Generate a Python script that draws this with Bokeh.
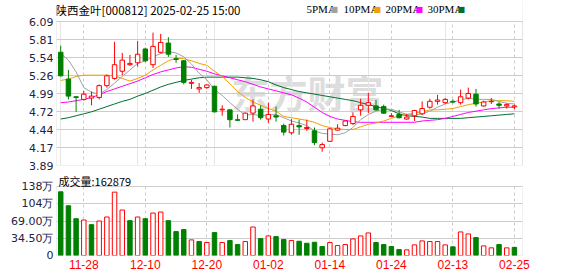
from bokeh.plotting import figure
from bokeh.layouts import column
from bokeh.models import Range1d, FixedTicker, Label, ColumnDataSource, Grid, BoxAnnotation
from bokeh.embed import file_html
from bokeh.resources import INLINE

# ---------------- data ----------------
dates = ["11-25", "11-26", "11-27", "11-28", "11-29", "12-02", "12-03", "12-04", "12-05", "12-06",
         "12-09", "12-10", "12-11", "12-12", "12-13", "12-16", "12-17", "12-18", "12-19", "12-20",
         "12-23", "12-24", "12-25", "12-26", "12-27", "12-30", "12-31", "01-02", "01-03", "01-06",
         "01-07", "01-08", "01-09", "01-10", "01-13", "01-14", "01-15", "01-16", "01-17", "01-20",
         "01-21", "01-22", "01-23", "01-24", "01-27", "02-05", "02-06", "02-07", "02-10", "02-11",
         "02-12", "02-13", "02-14", "02-17", "02-18", "02-19", "02-20", "02-21", "02-24", "02-25"]
opens = [5.62, 5.21, 4.94, 4.90, 4.92, 4.93, 5.11, 5.22, 5.33, 5.43,
         5.46, 5.67, 5.43, 5.62, 5.76, 5.52, 5.49, 5.145, 5.06, 5.08,
         5.10, 4.74, 4.74, 4.59, 4.59, 4.69, 4.75, 4.60, 4.65, 4.50,
         4.39, 4.50, 4.455, 4.42, 4.16, 4.26, 4.43, 4.50, 4.53, 4.74,
         4.81, 4.80, 4.79, 4.64, 4.67, 4.60, 4.65, 4.68, 4.78, 4.87,
         4.85, 4.87, 4.85, 4.92, 4.98, 4.80, 4.865, 4.83, 4.80, 4.785]
highs = [5.72, 5.35, 4.95, 5.03, 5.02, 5.13, 5.28, 5.78, 5.61, 5.58,
         5.79, 5.69, 5.92, 5.90, 5.85, 5.58, 5.50, 5.20, 5.15, 5.13,
         5.11, 4.81, 4.74, 4.67, 4.70, 4.90, 4.81, 4.85, 4.79, 4.53,
         4.60, 4.59, 4.59, 4.47, 4.24, 4.46, 4.52, 4.58, 4.70, 4.91,
         5.00, 4.89, 4.82, 4.69, 4.74, 4.68, 4.74, 4.87, 4.91, 4.97,
         4.92, 4.90, 5.05, 5.08, 5.06, 4.88, 4.92, 4.86, 4.84, 4.82]
lows = [5.25, 4.90, 4.71, 4.88, 4.81, 4.90, 5.08, 5.20, 5.27, 5.41,
        5.40, 5.47, 5.38, 5.60, 5.55, 5.46, 5.13, 5.06, 5.00, 5.06,
        4.70, 4.65, 4.47, 4.57, 4.59, 4.56, 4.59, 4.54, 4.56, 4.35,
        4.36, 4.36, 4.42, 4.20, 4.10, 4.25, 4.42, 4.49, 4.51, 4.65,
        4.69, 4.73, 4.68, 4.63, 4.61, 4.59, 4.57, 4.66, 4.76, 4.82,
        4.83, 4.84, 4.82, 4.90, 4.79, 4.79, 4.83, 4.76, 4.76, 4.75]
closes = [5.26, 4.95, 4.93, 4.98, 4.95, 5.11, 5.26, 5.43, 5.50, 5.45,
          5.59, 5.49, 5.71, 5.77, 5.59, 5.51, 5.16, 5.16, 5.08, 5.12,
          4.71, 4.75, 4.59, 4.58, 4.69, 4.80, 4.62, 4.67, 4.63, 4.40,
          4.52, 4.48, 4.47, 4.24, 4.21, 4.45, 4.46, 4.57, 4.64, 4.81,
          4.85, 4.74, 4.69, 4.65, 4.62, 4.63, 4.73, 4.76, 4.87, 4.89,
          4.90, 4.86, 4.94, 4.99, 4.83, 4.86, 4.87, 4.81, 4.82, 4.80]
volumes = [127.4, 99.5, 73.6, 71.0, 61.7, 69.0, 77.0, 126.7, 90.9, 69.7,
           77.0, 73.6, 84.9, 86.9, 69.7, 47.8, 51.8, 31.2, 27.9, 25.9,
           45.8, 25.9, 29.9, 21.9, 27.9, 57.0, 33.8, 39.1, 37.8, 31.8,
           29.9, 28.5, 24.5, 26.5, 17.9, 25.9, 19.9, 21.9, 33.2, 39.1,
           45.1, 25.9, 21.9, 17.9, 11.9, 11.3, 21.2, 29.2, 27.9, 27.9,
           21.2, 17.3, 47.1, 43.1, 35.8, 19.2, 15.3, 21.9, 15.3, 16.29]
ma5 = [5.60, 5.50, 5.32, 5.08, 5.01, 4.98, 5.05, 5.15, 5.25, 5.35,
       5.45, 5.49, 5.55, 5.60, 5.63, 5.61, 5.55, 5.44, 5.30, 5.20,
       5.05, 4.96, 4.85, 4.75, 4.66, 4.67, 4.65, 4.66, 4.67, 4.62,
       4.57, 4.54, 4.50, 4.42, 4.38, 4.37, 4.36, 4.39, 4.47, 4.59,
       4.67, 4.72, 4.75, 4.75, 4.71, 4.67, 4.66, 4.68, 4.72, 4.78,
       4.83, 4.86, 4.89, 4.92, 4.90, 4.90, 4.90, 4.87, 4.84, 4.83]
ma10 = [5.19, 5.21, 5.25, 5.27, 5.27, 5.27, 5.27, 5.26, 5.22, 5.18,
        5.22, 5.27, 5.35, 5.42, 5.49, 5.53, 5.52, 5.49, 5.45, 5.42,
        5.33, 5.25, 5.14, 5.02, 4.93, 4.86, 4.81, 4.76, 4.72, 4.64,
        4.62, 4.60, 4.58, 4.55, 4.50, 4.47, 4.45, 4.44, 4.44, 4.48,
        4.52, 4.54, 4.57, 4.61, 4.65, 4.67, 4.69, 4.71, 4.74, 4.74,
        4.75, 4.76, 4.79, 4.82, 4.84, 4.86, 4.88, 4.88, 4.88, 4.87]
ma20 = [4.85, 4.86, 4.88, 4.90, 4.93, 4.97, 5.02, 5.06, 5.10, 5.14,
        5.18, 5.23, 5.28, 5.32, 5.35, 5.38, 5.40, 5.39, 5.36, 5.33,
        5.29, 5.26, 5.23, 5.20, 5.17, 5.13, 5.09, 5.06, 5.03, 5.00,
        4.97, 4.92, 4.86, 4.78, 4.70, 4.64, 4.60, 4.58, 4.56, 4.55,
        4.55, 4.55, 4.55, 4.55, 4.55, 4.55, 4.55, 4.57, 4.58, 4.59,
        4.61, 4.64, 4.67, 4.70, 4.72, 4.74, 4.76, 4.77, 4.78, 4.78]
ma30 = [4.60, 4.62, 4.65, 4.68, 4.71, 4.75, 4.79, 4.83, 4.87, 4.90,
        4.95, 4.99, 5.04, 5.09, 5.13, 5.16, 5.19, 5.21, 5.23, 5.24,
        5.24, 5.24, 5.24, 5.24, 5.23, 5.22, 5.20, 5.17, 5.12, 5.08,
        5.05, 5.02, 5.00, 4.98, 4.96, 4.94, 4.92, 4.90, 4.88, 4.85,
        4.82, 4.79, 4.76, 4.73, 4.68, 4.65, 4.64, 4.63, 4.61, 4.61,
        4.61, 4.61, 4.61, 4.62, 4.63, 4.64, 4.65, 4.66, 4.67, 4.68]

price_ticks = [3.89, 4.165, 4.44, 4.715, 4.99, 5.265, 5.54, 5.815, 6.09]
price_tick_labels = ["3.89", "4.17", "4.44", "4.72", "4.99", "5.26", "5.54", "5.81", "6.09"]
vol_ticks = [0, 34.5, 69, 103.5, 138]
vol_tick_labels = ["0", "34.50万", "69.00万", "104万", "138万"]
date_tick_idx = [3, 11, 19, 27, 35, 43, 51, 59]
title_text = "陕西金叶[000812] 2025-02-25 15:00"
last_volume = "162879"
ma_names = ["5PMA", "10PMA", "20PMA", "30PMA"]

# ---------------- styles / geometry ----------------
RED = "#ff0000"
GREEN = "#008000"
MA_COLORS = ["#a0a0a0", "#f0a000", "#ff00ff", "#006f2f"]
GRID = "#cccccc"
BORDER = "#999999"
LABEL = "#222244"
W = 578
MAIN_H = 172          # canvas of the price panel
PRICE_TOP, PRICE_BOT = 21, 165   # pixel rows of the price box
VOL_H = 104           # canvas of the volume panel (starts at row 172)
VOL_TOP, VOL_BOT = 14, 83        # pixel rows of the volume box inside its canvas

idx = list(range(len(closes)))
up = [c >= o for o, c in zip(opens, closes)]
prev = [opens[0]] + closes[:-1]
vol_up = [c >= pc for c, pc in zip(closes, prev)]

src = ColumnDataSource(dict(
    x=idx, o=opens, h=highs, l=lows, c=closes,
    top=[max(o, c) for o, c in zip(opens, closes)],
    bot=[min(o, c) for o, c in zip(opens, closes)],
    col=[RED if u else GREEN for u in up],
    fill=["#ffffff" if u else GREEN for u in up],
    vol=volumes,
    vcol=[RED if u else GREEN for u in vol_up],
    vfill=["#ffffff" if u else GREEN for u in vol_up],
    ma5=ma5, ma10=ma10, ma20=ma20, ma30=ma30,
))

x_range = Range1d(-0.55, 60.05)


def style_yaxis(fig, ticks, labels):
    fig.yaxis.ticker = FixedTicker(ticks=ticks)
    fig.yaxis.major_label_overrides = {t: s for t, s in zip(ticks, labels)}
    fig.yaxis.axis_line_color = None
    fig.yaxis.major_tick_line_color = None
    fig.yaxis.minor_tick_line_color = None
    fig.yaxis.major_tick_out = 0
    fig.yaxis.major_label_standoff = 3
    fig.yaxis.major_label_text_font = "DejaVu Sans"
    fig.yaxis.major_label_text_font_size = "11px"
    fig.yaxis.major_label_text_color = LABEL
    fig.ygrid.grid_line_color = GRID


# ---------------- main price panel ----------------
p_lo, p_hi = price_ticks[0], price_ticks[-1]
upp = (p_hi - p_lo) / (PRICE_BOT - PRICE_TOP)
p = figure(width=W, height=MAIN_H, x_range=x_range,
           y_range=Range1d(p_lo, p_hi + PRICE_TOP * upp),
           output_backend="svg", toolbar_location=None, x_axis_location=None,
           min_border_left=56, min_border_right=56, min_border_top=0,
           min_border_bottom=MAIN_H - PRICE_BOT)
p.background_fill_color = "white"
p.border_fill_color = "white"
p.outline_line_color = None
style_yaxis(p, price_ticks, price_tick_labels)
p.add_layout(Grid(dimension=0, ticker=FixedTicker(ticks=date_tick_idx),
                  grid_line_color=GRID, grid_line_dash="3 3"))
# white header strip above the price box, and the box border
p.add_layout(BoxAnnotation(bottom=p_hi, fill_color="white", fill_alpha=1.0,
                           line_color=None, level="underlay"))
p.add_layout(BoxAnnotation(bottom=p_lo, top=p_hi, fill_alpha=0.0,
                           line_color=BORDER, line_width=1))

p.add_layout(Label(x=175, y=74, x_units="screen", y_units="screen", text="东方财富",
                   text_font="Noto Sans CJK SC", text_font_size="38px", text_font_style="bold",
                   text_color="#dddddd", text_baseline="middle", level="image"))

for name, col in zip(["ma30", "ma20", "ma10", "ma5"], MA_COLORS[::-1]):
    p.line("x", name, source=src, line_color=col, line_width=1)

p.segment(x0="x", y0="h", x1="x", y1="l", source=src, line_color="col", line_width=1)
p.vbar(x="x", width=0.58, top="top", bottom="bot", source=src,
       fill_color="fill", line_color="col", line_width=1)

p.add_layout(Label(x=-1, y=PRICE_BOT - 9, x_units="screen", y_units="screen", text=title_text,
                   text_font="Noto Sans CJK SC", text_font_size="11.5px",
                   text_color="#000000", text_baseline="middle"))
leg_x = [250, 287, 329, 371]
sq_x = [274, 317, 359, 401]
for name, col, lx, sx in zip(ma_names, MA_COLORS, leg_x, sq_x):
    p.add_layout(Label(x=lx, y=PRICE_BOT - 8.5, x_units="screen", y_units="screen", text=name,
                       text_font="Liberation Sans Narrow", text_font_size="11px",
                       text_color="#000000", text_baseline="middle"))
    p.add_layout(Label(x=sx, y=PRICE_BOT - 8.5, x_units="screen", y_units="screen", text="■",
                       text_font="DejaVu Sans", text_font_size="8px",
                       text_color=col, text_baseline="middle"))

# ---------------- volume panel ----------------
v_hi = vol_ticks[-1]
vpp = v_hi / (VOL_BOT - VOL_TOP)
v = figure(width=W, height=VOL_H, x_range=x_range,
           y_range=Range1d(0, v_hi + VOL_TOP * vpp),
           output_backend="svg", toolbar_location=None,
           min_border_left=56, min_border_right=56, min_border_top=0,
           min_border_bottom=VOL_H - VOL_BOT)
v.background_fill_color = "white"
v.border_fill_color = "white"
v.outline_line_color = None
style_yaxis(v, vol_ticks, vol_tick_labels)
v.xaxis.ticker = FixedTicker(ticks=date_tick_idx)
v.xaxis.major_label_overrides = {i: dates[i] for i in date_tick_idx}
v.xaxis.axis_line_color = None
v.xaxis.major_tick_line_color = None
v.xaxis.minor_tick_line_color = None
v.xaxis.major_tick_out = 0
v.xaxis.major_label_standoff = 4
v.xaxis.major_label_text_font = "Liberation Sans"
v.xaxis.major_label_text_font_size = "12px"
v.xaxis.major_label_text_color = RED
v.xgrid.grid_line_color = GRID
v.xgrid.grid_line_dash = "3 3"
v.add_layout(BoxAnnotation(bottom=v_hi, fill_color="white", fill_alpha=1.0,
                           line_color=None, level="underlay"))
v.add_layout(BoxAnnotation(bottom=0, top=v_hi, fill_alpha=0.0,
                           line_color=BORDER, line_width=1))

v.vbar(x="x", width=0.58, top="vol", bottom=0, source=src,
       fill_color="vfill", line_color="vcol", line_width=1)

v.add_layout(Label(x=2, y=VOL_BOT - 8.6, x_units="screen", y_units="screen",
                   text="成交量:" + last_volume,
                   text_font="Noto Sans CJK SC", text_font_size="11px",
                   text_color="#000000", text_baseline="middle"))

layout = column(p, v, spacing=0)
open("out.html", "w").write(file_html(layout, INLINE))
